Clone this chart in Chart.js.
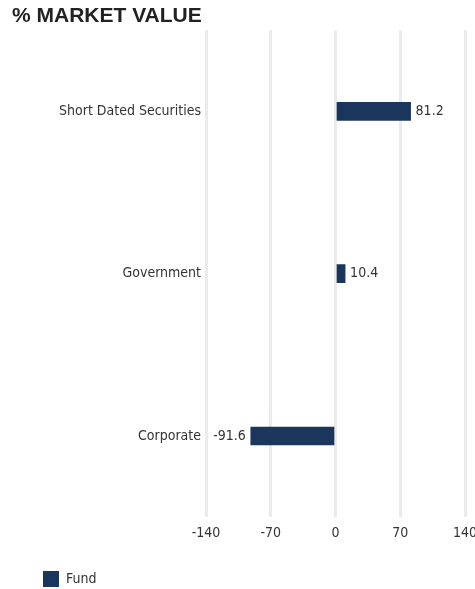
<!DOCTYPE html>
<html>
<head>
<meta charset="utf-8">
<script src="https://cdn.jsdelivr.net/npm/chart.js@4"></script>
<style>
  html, body { margin: 0; padding: 0; background: #fff; }
  #wrap { width: 475px; height: 589px; }
</style>
</head>
<body>
<div id="wrap"><canvas id="mv"></canvas></div>
<script>
// categories and values
const categories = ['Short Dated Securities', 'Government', 'Corporate']
const fundValues = [81.2, 10.4, -91.6]
const tickValues = [-140, -70, 0, 70, 140]

const narrow = "'Liberation Sans Narrow', 'DejaVu Sans Condensed', 'Roboto Condensed', sans-serif"

// writes the value next to the end of each bar
const valueLabels = {
  id: 'valueLabels',
  afterDatasetsDraw(chart) {
    const ctx = chart.ctx
    const meta = chart.getDatasetMeta(0)
    ctx.save()
    ctx.font = '14px ' + narrow
    ctx.fillStyle = '#333'
    ctx.textBaseline = 'middle'
    meta.data.forEach((bar, i) => {
      const v = chart.data.datasets[0].data[i]
      if (v >= 0) {
        ctx.textAlign = 'left'
        ctx.fillText(v.toFixed(1), bar.x + 5, bar.y)
      } else {
        ctx.textAlign = 'right'
        ctx.fillText(v.toFixed(1), bar.x - 5, bar.y)
      }
    })
    ctx.restore()
  }
}

// nudge the legend so it sits under the labels like in the picture
const legendShift = {
  id: 'legendShift',
  afterLayout(chart) {
    chart.legend.left = 30
    chart.legend.top += 8
  }
}

const data_mv = {
  labels: categories,
  datasets: [{
    label: 'Fund',
    backgroundColor: '#1b365d',
    data: fundValues,
    barThickness: 18
  }]
}

const config_mv = {
  type: 'bar',
  data: data_mv,
  options: {
    indexAxis: 'y',
    responsive: true,
    maintainAspectRatio: false,
    animation: false,
    layout: { padding: { left: 12, top: 0, right: 0, bottom: 0 } },
    scales: {
      x: {
        min: -140,
        max: 140,
        afterBuildTicks: s => { s.ticks = tickValues.map(v => ({ value: v })) },
        afterFit: s => { s.paddingRight = 10 },
        grid: { color: '#ebebeb', lineWidth: 3, drawTicks: false },
        border: { display: false },
        ticks: { color: '#333', padding: 8, font: { family: narrow, size: 14 } }
      },
      y: {
        afterFit: s => { s.width = 194 },
        grid: { display: false, drawTicks: false },
        border: { display: false },
        ticks: { color: '#333', padding: 5, font: { family: narrow, size: 14 } }
      }
    },
    plugins: {
      title: {
        display: true,
        text: '% MARKET VALUE',
        align: 'start',
        color: '#222',
        font: { family: "'Liberation Sans', Arial, sans-serif", size: 21, weight: 'bold' },
        padding: { top: 4, bottom: 1 },
        fullSize: true
      },
      legend: {
        position: 'bottom',
        align: 'start',
        labels: {
          boxWidth: 16,
          boxHeight: 16,
          color: '#333',
          padding: 13,
          font: { family: narrow, size: 14 }
        }
      },
      tooltip: { enabled: false }
    }
  },
  plugins: [valueLabels, legendShift]
}

const mvChart = new Chart(document.getElementById('mv'), config_mv)
</script>
</body>
</html>
